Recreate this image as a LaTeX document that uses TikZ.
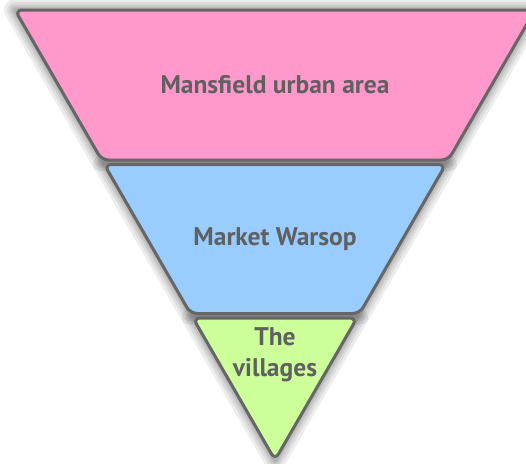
\documentclass[tikz,border=0pt]{standalone}
\usepackage{fontspec}
\setmainfont{PT Sans}
\usepackage{tikz}
\usetikzlibrary{calc}
\definecolor{edge}{HTML}{666666}
\definecolor{ink}{HTML}{606060}
\definecolor{pink}{HTML}{FF99CC}
\definecolor{sky}{HTML}{99CCFF}
\definecolor{lime}{HTML}{CCFF99}
\tikzset{
  layer/.style={draw=edge, line width=3pt, line join=round},
  haze/.style={draw=black, line join=round, opacity=0.07, line width=#1},
  lab/.style={text=ink, font=\bfseries\fontsize{25.5}{31}\selectfont, align=center, inner sep=0pt, anchor=base},
}

\begin{document}
\begin{tikzpicture}[x=1pt,y=-1pt]
  \useasboundingbox (0,0) rectangle (526,463);
  % outer corners of the funnel
  \coordinate (A) at (15,10);
  \coordinate (B) at (535,10);
  \coordinate (C) at (275,460);
  \begin{scope}[rounded corners=7pt]
    \path[save path=\pinkband] (A) -- (B) -- (448.3,160) -- (101.7,160) -- cycle;
    \path[save path=\skyband] (104.3,164.5) -- (445.7,164.5) -- (359.6,313.5) -- (190.4,313.5) -- cycle;
    \path[save path=\limeband] (193,318) -- (357,318) -- (C) -- cycle;
  \end{scope}
  % soft shadow first
  \begin{scope}[yshift=-2pt]
    \foreach \w in {22,16,11,7,4}
      \foreach \p in {\pinkband,\skyband,\limeband}
        \draw[haze=\w pt, use path=\p];
  \end{scope}
  % bands
  \fill[pink,layer,use path=\pinkband];
  \fill[sky,layer,use path=\skyband];
  \fill[lime,layer,use path=\limeband];
  \node[lab] (urban) at (275,93) {Mansfield urban area};
  \node[lab] (warsop) at (275,245) {Market Warsop};
  \node[lab] (the) at (275,345) {The};
  \node[lab] (vill) at (275,376.5) {villages};
\end{tikzpicture}
\end{document}
